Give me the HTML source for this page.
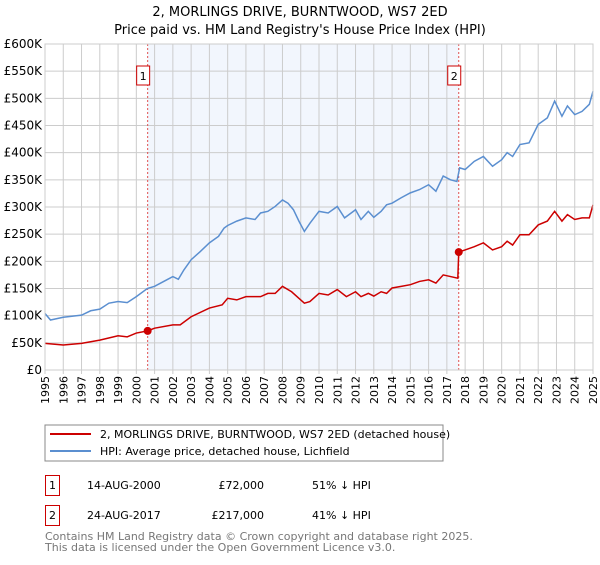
<!DOCTYPE html>
<html><head><meta charset="utf-8"><style>
body{margin:0;background:#fff;width:600px;height:560px;overflow:hidden;font-family:"Liberation Sans","DejaVu Sans",sans-serif}
svg text{font-family:"DejaVu Sans","Liberation Sans",sans-serif}
</style></head><body>
<svg id="chart" width="600" height="560">
<text x="300" y="16" text-anchor="middle" font-size="13">2, MORLINGS DRIVE, BURNTWOOD, WS7 2ED</text>
<text x="300" y="34" text-anchor="middle" font-size="13">Price paid vs. HM Land Registry's House Price Index (HPI)</text>
<g id="plot"></g>
<rect x="45" y="425" width="398" height="36" fill="#fff" stroke="#888"/>
<line x1="50" y1="434" x2="91" y2="434" stroke="#cc0000" stroke-width="2"/>
<text x="100" y="438" font-size="11">2, MORLINGS DRIVE, BURNTWOOD, WS7 2ED (detached house)</text>
<line x1="50" y1="451" x2="91" y2="451" stroke="#5b8fd0" stroke-width="2"/>
<text x="100" y="455" font-size="11">HPI: Average price, detached house, Lichfield</text>
<g font-size="11">
<rect x="45.5" y="475.5" width="14" height="20" fill="#fff" stroke="#cc0000"/>
<text x="52.5" y="489" text-anchor="middle">1</text>
<text x="87" y="489">14-AUG-2000</text>
<text x="264" y="489" text-anchor="end">£72,000</text>
<text x="312" y="489">51% ↓ HPI</text>
<rect x="45.5" y="505.5" width="14" height="20" fill="#fff" stroke="#cc0000"/>
<text x="52.5" y="519" text-anchor="middle">2</text>
<text x="87" y="519">24-AUG-2017</text>
<text x="264" y="519" text-anchor="end">£217,000</text>
<text x="312" y="519">41% ↓ HPI</text>
</g>
<text x="45" y="540" font-size="11" fill="#777">Contains HM Land Registry data © Crown copyright and database right 2025.</text>
<text x="45" y="551" font-size="11" fill="#777">This data is licensed under the Open Government Licence v3.0.</text>
</svg>
<script>
const yearTicks=[1995,1996,1997,1998,1999,2000,2001,2002,2003,2004,2005,2006,2007,2008,2009,2010,2011,2012,2013,2014,2015,2016,2017,2018,2019,2020,2021,2022,2023,2024,2025];
const valueTicks=[0,50,100,150,200,250,300,350,400,450,500,550,600];
const valueLabels=["£0","£50K","£100K","£150K","£200K","£250K","£300K","£350K","£400K","£450K","£500K","£550K","£600K"];
const hpiYears=[1995,1995.3,1996,1997,1997.5,1998,1998.5,1999,1999.5,2000,2000.6,2001,2001.5,2002,2002.3,2002.6,2003,2003.5,2004,2004.5,2004.8,2005,2005.5,2006,2006.5,2006.8,2007.2,2007.6,2008,2008.3,2008.6,2008.9,2009.2,2009.5,2010,2010.5,2011,2011.4,2012,2012.3,2012.7,2013,2013.4,2013.7,2014,2014.5,2015,2015.5,2016,2016.4,2016.8,2017.2,2017.55,2017.7,2018,2018.5,2019,2019.5,2020,2020.3,2020.6,2021,2021.5,2022,2022.5,2022.9,2023.3,2023.6,2024,2024.4,2024.8,2025];
const hpiValues=[104,92,97,101,109,112,123,126,124,135,150,154,163,172,167,184,203,218,234,246,261,266,274,280,277,289,292,301,313,307,295,274,255,270,292,289,301,280,295,277,292,281,292,304,307,317,326,332,341,329,357,350,347,372,369,384,393,375,387,400,393,415,418,452,464,495,467,486,470,476,489,513];
const priceYears=[1995,1996,1997,1998,1999,1999.5,2000,2000.62,2001,2002,2002.4,2003,2004,2004.7,2005,2005.5,2006,2006.8,2007.2,2007.6,2008,2008.5,2008.9,2009.2,2009.5,2010,2010.5,2011,2011.5,2012,2012.3,2012.7,2013,2013.4,2013.7,2014,2014.5,2015,2015.5,2016,2016.4,2016.8,2017.2,2017.6,2017.65,2018,2018.5,2019,2019.5,2020,2020.3,2020.6,2021,2021.5,2022,2022.5,2022.9,2023.3,2023.6,2024,2024.4,2024.8,2025];
const priceValues=[49,46,49,55,63,61,68,72,77,83,83,98,114,120,132,129,135,135,141,141,154,144,132,123,126,141,138,148,135,144,135,141,136,144,141,151,154,157,163,166,160,175,172,169,217,221,227,234,221,227,237,230,249,249,267,274,292,274,286,277,280,280,304];
const saleYears=[2000.62,2017.65];
const saleValues=[72,217];
const saleLabels=["1","2"];

const X0=45,X1=593,Y0=370,Y1=44;
const xs=y=>X0+(y-1995)/(2025-1995)*(X1-X0);
const ys=v=>Y0-v/600*(Y0-Y1);
const NS="http://www.w3.org/2000/svg";
const g=document.getElementById('plot');
function mk(t,a){const e=document.createElementNS(NS,t);for(const k in a)e.setAttribute(k,a[k]);g.appendChild(e);return e;}
const bg=mk('rect',{x:X0,y:Y1,width:X1-X0,height:Y0-Y1,fill:'#fff'});


const sh=mk('rect',{x:xs(saleYears[0]),y:Y1,width:xs(saleYears[1])-xs(saleYears[0]),height:Y0-Y1,fill:'#eef3fc',opacity:0.75});


yearTicks.forEach(yr=>{
  const l=mk('line',{x1:xs(yr),x2:xs(yr),y1:Y1,y2:Y0+4,stroke:'#ccc'});
  
  
  const t=mk('text',{x:0,y:0,'font-size':11,'text-anchor':'end',transform:`translate(${xs(yr)+4},${Y0+6}) rotate(-90)`});
  t.textContent=yr;
  
  
});
valueTicks.forEach((v,i)=>{
  const l=mk('line',{x1:X0,x2:X1,y1:ys(v),y2:ys(v),stroke:'#ccc'});
  
  
  const t=mk('text',{x:X0-3,y:ys(v)+4,'font-size':12,'text-anchor':'end'});
  t.textContent=valueLabels[i];
  
  
});
saleYears.forEach((yr,i)=>{
  const l=mk('line',{x1:xs(yr),x2:xs(yr),y1:Y1,y2:Y0,stroke:'#e05050','stroke-dasharray':'2,2'});
  
  
  const b=mk('rect',{x:xs(yr)-11,y:66,width:13,height:19,fill:'#fff',stroke:'#cc0000'});
  
  
  const t=mk('text',{x:xs(yr)-4.5,y:80,'font-size':11,'text-anchor':'middle'});
  t.textContent=saleLabels[i];
  
  
});
const hp=mk('polyline',{points:hpiYears.map((y,i)=>xs(y)+','+ys(hpiValues[i])).join(' '),fill:'none',stroke:'#5b8fd0','stroke-width':1.5});


const pp=mk('polyline',{points:priceYears.map((y,i)=>xs(y)+','+ys(priceValues[i])).join(' '),fill:'none',stroke:'#cc0000','stroke-width':1.5});


saleYears.forEach((yr,i)=>{
  const c=mk('circle',{cx:xs(yr),cy:ys(saleValues[i]),r:4,fill:'#cc0000'});
  
  
});
const ax=mk('rect',{x:X0,y:Y1,width:X1-X0,height:Y0-Y1,fill:'none',stroke:'#ccc'});


</script>
</body></html>
